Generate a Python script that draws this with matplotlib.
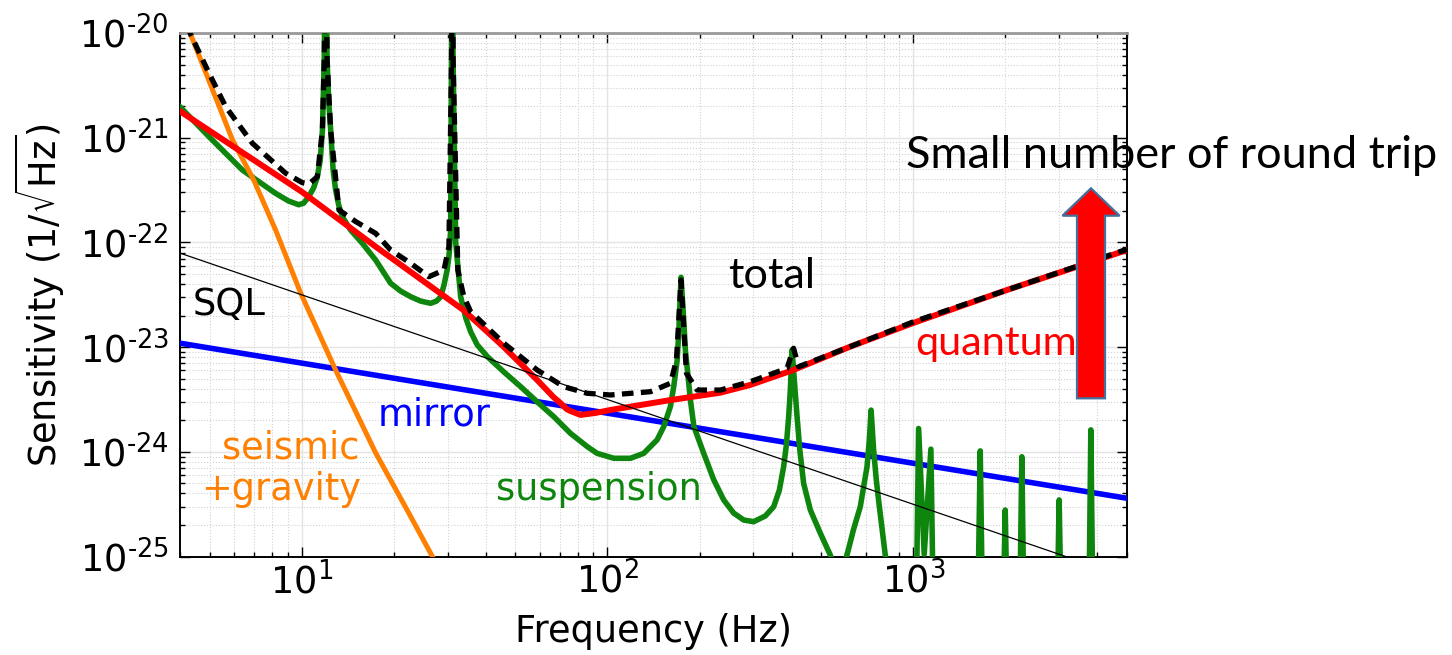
import matplotlib
matplotlib.use('Agg')
import matplotlib.pyplot as plt
from matplotlib.patches import FancyArrow
from matplotlib.ticker import NullFormatter

# values (Hz, 1/sqrt(Hz))
seismic_f = [4.0, 4.34, 5.94, 6.97, 8.22, 9.92, 12.91, 17.46, 22.4, 26.8, 30.0]
seismic_h = [1.75e-20, 9.57e-21, 9.5e-22, 3.94e-22, 1.31e-22, 3.29e-23, 6.04e-24,
             9.75e-25, 2.6e-25, 9.9e-26, 5.4e-26]

quantum_f = [4.0, 10, 17.46, 33.8, 45.7, 58.9, 66.6, 70.2, 73.5, 75.7, 81.6, 91.4,
             102.3, 160.7, 234, 293, 405, 622, 1000, 2024, 5000]
quantum_h = [1.79e-21, 3.05e-22, 9.1e-23, 2.26e-23, 1.01e-23, 4.85e-24, 3.33e-24,
             2.92e-24, 2.56e-24, 2.45e-24, 2.25e-24, 2.35e-24, 2.51e-24, 3.12e-24,
             3.67e-24, 4.35e-24, 6.04e-24, 1.01e-23, 1.70e-23, 3.51e-23, 8.45e-23]

mirror_f = [4.0, 5000]
mirror_h = [1.09e-23, 3.6e-25]

sql_f = [4.0, 5000]
sql_h = [7.9e-23, 6.3e-26]

suspension_f = [4.0, 4.98, 6.40, 7.35, 8.22, 9.07, 9.78, 10.15, 10.54, 10.94, 11.25, 11.5,
                11.69, 11.85, 11.98, 12.11, 12.25, 12.44, 12.67, 12.91, 13.21, 13.58,
                14.46, 15.79, 17.45, 19.54, 21.06, 22.71, 24.5, 26.4, 27.6, 28.5, 29.2,
                29.9, 30.34, 30.7, 30.9, 31.1, 31.27, 31.9, 33.1, 34.4, 35.7, 37.5, 40.5,
                45.8, 52.0, 58.9, 66.8, 75.7, 85.9, 92.5, 104.9, 118.9, 131.4, 145.3,
                152.8, 160.6, 164.7, 169, 171, 174, 177.6, 179.8, 186.7, 191.7, 206.4,
                222.6, 239.9, 258.6, 278.9, 300.6, 328.4, 349.6, 364.8, 376.8, 384.6,
                391.3, 396.3, 401.4, 416.9, 425.6, 438, 460.7, 496.6, 535.6, 569, 607,
                637, 671, 706, 718.4, 728, 742, 757, 770, 810, 850,
                1025, 1041, 1086, 1142, 1160, 1630, 1656, 1680, 1975, 1999, 2020, 2235,
                2265, 2295, 2965, 3000, 3035, 3760, 3808, 3860, 5000]
suspension_h = [1.97e-21, 1.02e-21, 4.91e-22, 3.69e-22, 2.94e-22, 2.48e-22, 2.29e-22,
                2.37e-22, 2.73e-22, 3.31e-22, 4.24e-22, 6.12e-22, 1.18e-21, 5.5e-21, 1e-19,
                5.5e-21, 2.29e-21, 1.18e-21, 4.92e-22, 3.17e-22, 2.28e-22, 1.76e-22,
                1.31e-22, 9.8e-23, 6.79e-23, 4.07e-23, 3.43e-23, 3.03e-23, 2.75e-23,
                2.62e-23, 2.75e-23, 3.03e-23, 3.92e-23, 5.45e-23, 7.59e-23, 1.31e-22,
                5.5e-21, 1e-19, 5.5e-21, 9.87e-23, 3.03e-23, 1.9e-23, 1.4e-23, 1.05e-23,
                8.1e-24, 5.8e-24, 4.19e-24, 3.0e-24, 2.16e-24, 1.5e-24, 1.12e-24, 9.67e-25,
                8.67e-25, 8.67e-25, 9.67e-25, 1.30e-24, 1.74e-24, 2.70e-24, 4.19e-24,
                7.5e-24, 1.35e-23, 4.64e-23, 1.8e-23, 9.38e-24, 3.13e-24, 1.74e-24,
                9.67e-25, 5.4e-25, 3.47e-25, 2.6e-25, 2.23e-25, 2.15e-25, 2.44e-25,
                2.99e-25, 4.3e-25, 7.21e-25, 1.16e-24, 2.16e-24, 3.9e-24, 9.4e-24,
                2.16e-24, 1.04e-24, 5.0e-25, 2.78e-25, 1.67e-25, 1.03e-25, 6e-26, 1.03e-25,
                1.79e-25, 2.99e-25, 7.21e-25, 1.3e-24, 2.5e-24, 1.04e-24, 5.4e-25,
                3.47e-25, 1.03e-25, 5e-26,
                5e-26, 1.67e-24, 1.05e-25, 1.06e-24, 5e-26, 5e-26, 1.02e-24, 5e-26, 5e-26,
                2.78e-25, 5e-26, 5e-26, 8.97e-25, 5e-26, 5e-26, 3.47e-25, 5e-26, 5e-26,
                1.62e-24, 5e-26, 5e-26]

total_f = [4.0, 4.34, 4.98, 5.64, 6.90, 8.87, 10.05, 10.56, 11.25, 11.69, 11.85, 11.98,
           12.11, 12.44, 13.24, 15.02, 17.45, 19.54, 22.71, 26.06, 29.2, 30.3, 30.9, 31.1,
           31.27, 32.4, 33.9, 35.7, 45.8, 58.9, 71.9, 85.9, 102.3, 138.2, 160.7, 168.1,
           174, 181.2, 196.4, 234, 293, 386.6, 406, 421.9, 622, 1004, 5000]
total_h = [1.75e-20, 9.6e-21, 4.12e-21, 1.98e-21, 8.84e-22, 4.57e-22, 3.72e-22, 3.61e-22,
           4.24e-22, 1.18e-21, 5.5e-21, 1e-19, 5.5e-21, 1.18e-21, 2.04e-22, 1.58e-22,
           1.22e-22, 8.46e-23, 6.32e-23, 4.70e-23, 5.45e-23, 9.1e-23, 5.5e-21, 1e-19,
           5.5e-21, 5.45e-23, 3.03e-23, 2.18e-23, 1.09e-23, 6.04e-24, 4.19e-24, 3.62e-24,
           3.49e-24, 3.75e-24, 4.51e-24, 7.53e-24, 4.37e-23, 5.62e-24, 3.89e-24, 3.89e-24,
           4.67e-24, 6.27e-24, 9.74e-24, 6.5e-24, 1.01e-23, 1.75e-23, 8.6e-23]

y_ticks = [1e-25, 1e-24, 1e-23, 1e-22, 1e-21, 1e-20]
y_tick_labels = [r'$10^{\text{-}25}$', r'$10^{\text{-}24}$', r'$10^{\text{-}23}$',
                 r'$10^{\text{-}22}$', r'$10^{\text{-}21}$', r'$10^{\text{-}20}$']

ORANGE = '#ff8000'
GREEN = '#0e860e'
BLUE = '#0000ff'
RED = '#ff0000'

plt.rcParams['font.family'] = ['DejaVu Sans']
plt.rcParams['mathtext.fontset'] = 'dejavusans'
plt.rcParams['mathtext.default'] = 'regular'

W, H = 1452, 655
fig = plt.figure(figsize=(W / 100, H / 100), dpi=100)
ax = fig.add_axes([180 / W, 1 - 556.5 / H, (1127 - 180) / W, (556.5 - 33) / H])
ax.set_xscale('log')
ax.set_yscale('log')

ax.plot(mirror_f, mirror_h, color=BLUE, lw=4.0, zorder=3)
ax.plot(suspension_f, suspension_h, color=GREEN, lw=4.0, zorder=4,
        solid_joinstyle='round')
ax.plot(seismic_f, seismic_h, color=ORANGE, lw=3.6, zorder=5)
ax.plot(quantum_f, quantum_h, color=RED, lw=4.3, zorder=6, solid_joinstyle='round')
ax.plot(sql_f, sql_h, color='black', lw=0.9, zorder=7)
ax.plot(total_f, total_h, color='black', lw=3.8, ls=(0, (2.2, 1.4)), zorder=8)

ax.set_xlim(4, 5000)
ax.set_ylim(1e-25, 1e-20)
ax.set_yticks(y_ticks, y_tick_labels)
ax.xaxis.set_minor_formatter(NullFormatter())
ax.yaxis.set_minor_formatter(NullFormatter())

ax.grid(which='major', color='#e4e4e4', lw=1.0, ls='-')
ax.grid(which='minor', color='#d2d2d2', lw=0.8, ls=':')
ax.set_axisbelow(True)
ax.tick_params(which='both', direction='in', top=True, right=True, width=1)
ax.tick_params(which='major', length=7, labelsize=26.5)
ax.tick_params(which='minor', length=3.5)
ax.tick_params(axis='y', pad=8)
ax.tick_params(axis='x', pad=4)
for side in ['left', 'bottom', 'right']:
    ax.spines[side].set_linewidth(1.4)
ax.spines['top'].set_color('#999999')
ax.spines['top'].set_linewidth(2)

ax.set_ylabel(r'Sensitivity (1/$\sqrt{\mathrm{Hz}}$)', fontsize=26.5, va='center')
ax.yaxis.set_label_coords(-0.148, 0.5)
ax.set_xlabel('Frequency (Hz)', fontsize=26.5, va='center')
ax.xaxis.set_label_coords(0.5, -0.144)

fs = 26.5
ax.text(4.40, 2.03e-23, 'SQL', fontsize=fs, color='black', va='baseline', zorder=9)
ax.text(17.7, 1.8e-24, 'mirror', fontsize=fs, color=BLUE, va='baseline', zorder=9)
ax.text(15.4, 8.7e-25, 'seismic', fontsize=fs, color=ORANGE, va='baseline',
        ha='right', zorder=9)
ax.text(15.6, 3.47e-25, '+gravity', fontsize=fs, color=ORANGE, va='baseline',
        ha='right', zorder=9)
ax.text(43.1, 3.47e-25, 'suspension', fontsize=fs, color=GREEN, va='baseline', zorder=9)
t_total = ax.text(248.5, 3.67e-23, 'total', fontsize=30, color='black',
                  family='Lato', va='baseline', zorder=9)
t_quant = ax.text(1015, 8.4e-24, 'quantum', fontsize=30, color=RED,
                  family='Lato', va='baseline', zorder=9)
t_small = fig.text(906 / W, 1 - 168 / H, 'Small number of round trip', fontsize=34,
                   color='black', family='Lato', va='baseline')

# scale the Calibri-like labels to the widths they have in the reference
fig.canvas.draw()
for t, width in [(t_total, 87), (t_quant, 162), (t_small, 533)]:
    w = t.get_window_extent().width
    t.set_fontsize(t.get_fontsize() * width / w)

arrow = FancyArrow(1091 / W, 1 - 398.3 / H, 0, (398.3 - 188.3) / H,
                   width=28 / W, head_width=57 / W, head_length=27.4 / H,
                   length_includes_head=True, transform=fig.transFigure,
                   facecolor=RED, edgecolor='#41719c', lw=1.6, zorder=5)
fig.add_artist(arrow)

fig.savefig('out.png', dpi=100)
